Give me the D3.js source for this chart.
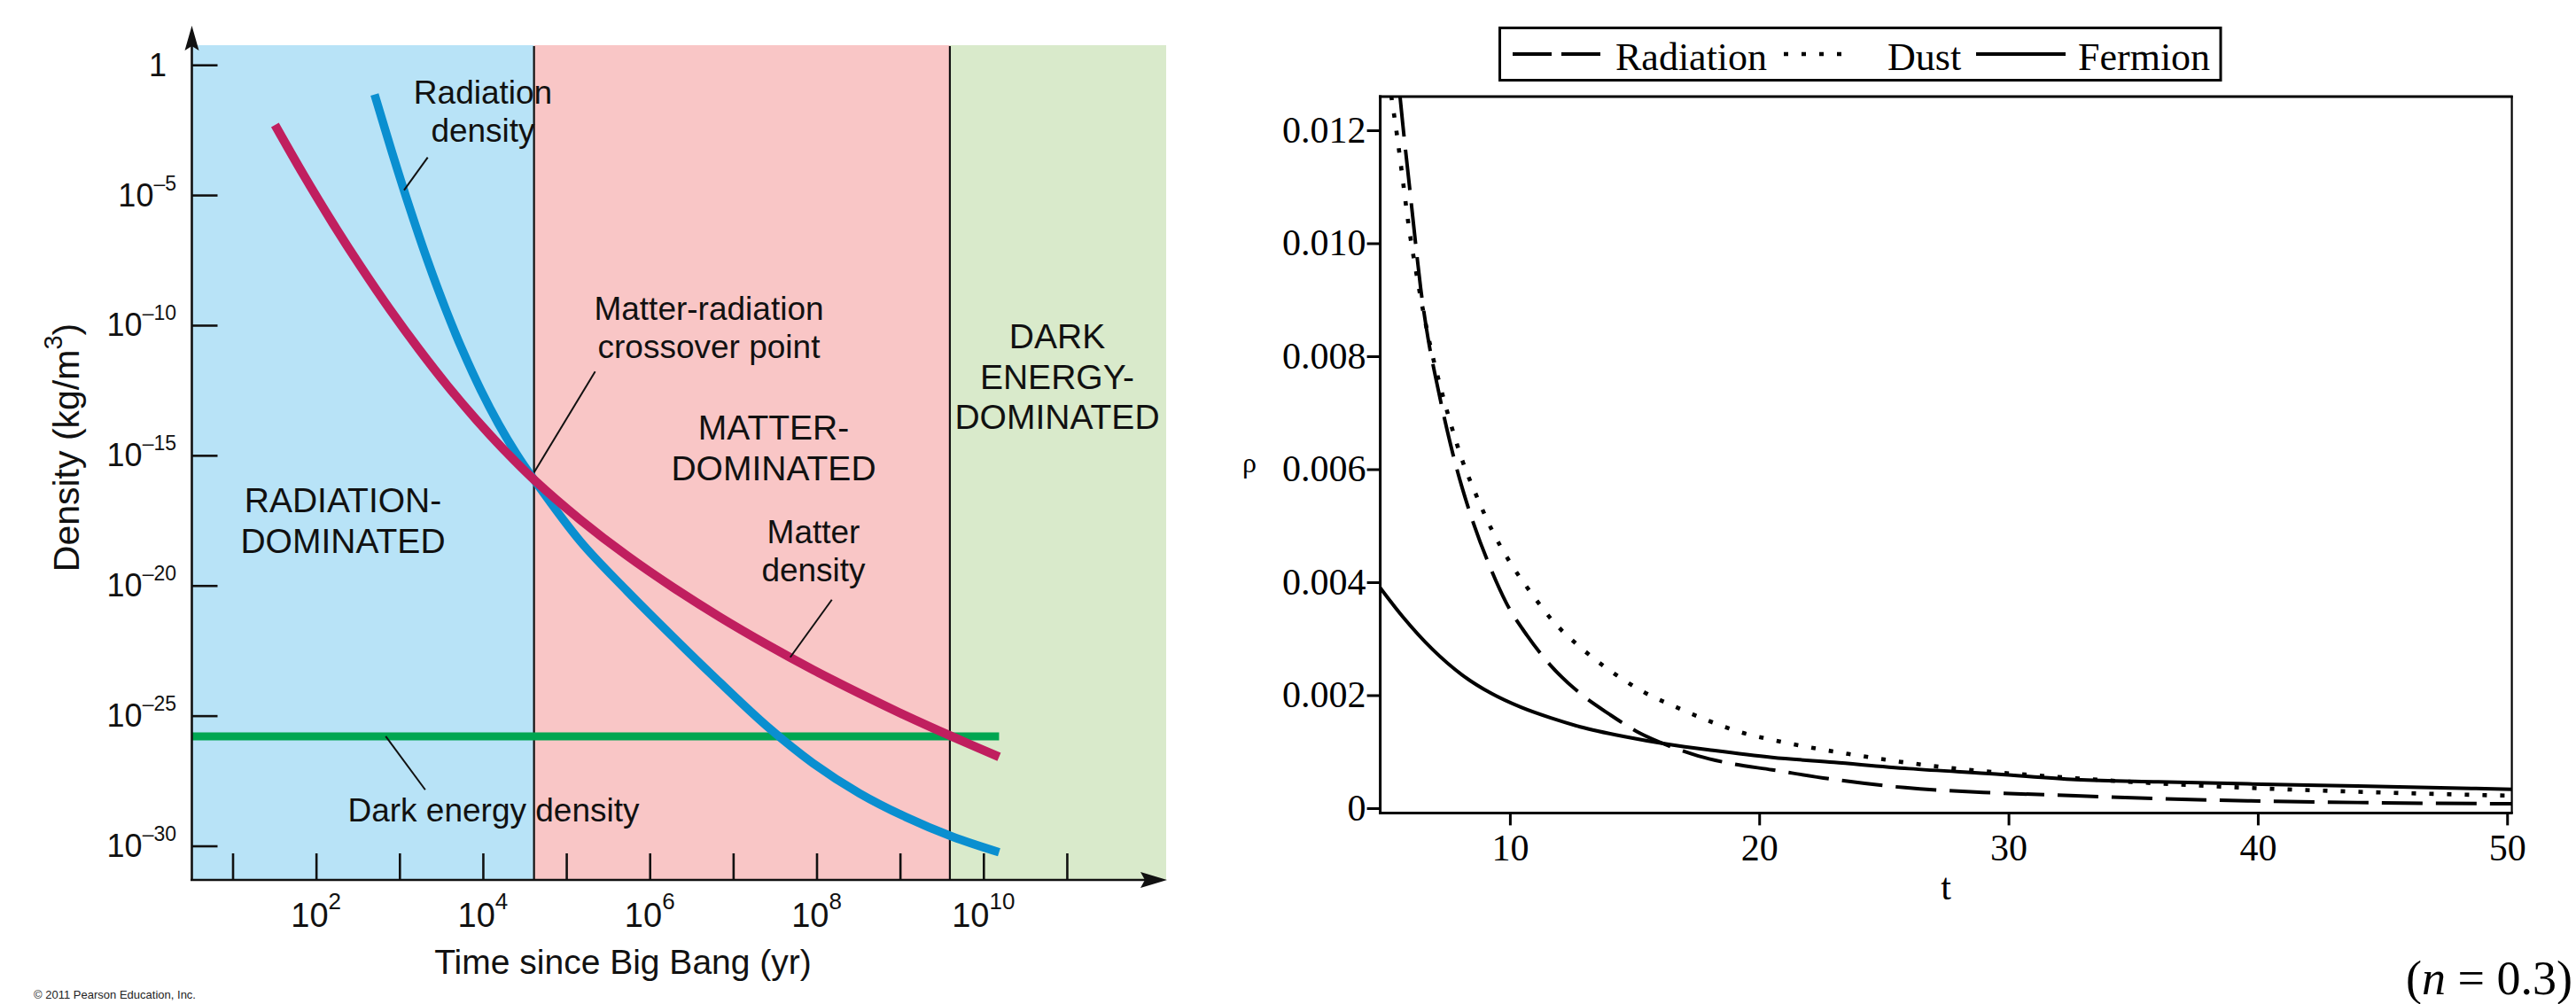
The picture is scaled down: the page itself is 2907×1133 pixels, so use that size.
<!DOCTYPE html>
<html><head><meta charset="utf-8">
<script src="https://cdn.jsdelivr.net/npm/d3@7"></script>
<style>
html,body{margin:0;padding:0;background:#fff;}
svg{display:block;}
</style></head>
<body>
<svg id="chart" width="2907" height="1133"></svg>
<script>
// ================= LEFT PANEL DATA =================
const leftXTicks = [1e1,1e2,1e3,1e4,1e5,1e6,1e7,1e8,1e9,1e10,1e11];
const leftXLabelValues = [1e2,1e4,1e6,1e8,1e10];
const leftXLabelExps = ["2","4","6","8","10"];
const leftYTicks = [1,1e-5,1e-10,1e-15,1e-20,1e-25,1e-30];
const leftYLabelExps = ["","–5","–10","–15","–20","–25","–30"];

const eraNames = [["RADIATION-","DOMINATED"],["MATTER-","DOMINATED"],["DARK","ENERGY-","DOMINATED"]];
const eraStart = [3.245, 4.1e4, 3.96e9];
const eraEnd   = [4.1e4, 3.96e9, 1.55e12];

const radiationT   = [503, 820.4, 1338, 2182, 3558, 5803, 9465, 15437, 25177, 41060,
                      1.483e5, 5.34e5, 1.929e6, 6.96e6, 2.514e7, 9.08e7, 3.278e8, 1.181e9, 4.264e9, 1.54e10];
const radiationRho = [7.24e-2, 4.07e-4, 2.92e-6, 2.89e-8, 4.30e-10, 9.53e-12, 3.18e-13, 1.59e-14, 1.15e-15, 1.16e-16,
                      4.84e-19, 6.20e-21, 1.01e-22, 1.87e-24, 4.06e-26, 1.49e-27, 1.04e-28, 1.27e-29, 2.24e-30, 5.69e-31];

const matterT   = [32.2, 71.3, 157.8, 349.4, 773.5, 1713, 3783, 8375, 18540, 41060,
                   1.483e5, 5.34e5, 1.929e6, 6.96e6, 2.514e7, 9.08e7, 3.278e8, 1.181e9, 4.264e9, 1.54e10];
const matterRho = [4.92e-3, 5.74e-5, 8.53e-7, 1.62e-8, 3.88e-10, 1.19e-11, 4.62e-13, 2.30e-14, 1.45e-15, 1.16e-16,
                   3.30e-18, 1.40e-19, 8.22e-21, 6.09e-22, 5.50e-23, 5.80e-24, 7.15e-25, 9.92e-26, 1.55e-26, 2.61e-27];

const darkT   = [3.245, 1.54e10];
const darkRho = [1.61e-26, 1.61e-26];

// leader-line targets (data coordinates on the curves)
const leaderTargets = [[1.135e3, 1.53e-5], [4.1e4, 2.2e-16], [4.83e7, 1.75e-23], [6.84e2, 1.61e-26]];

// ================= RIGHT PANEL DATA =================
const rightXTicks = [10,20,30,40,50];
const rightYTicks = [0,0.002,0.004,0.006,0.008,0.010,0.012];
const seriesNames = ["Radiation","Dust","Fermion"];

const radT   = [5.59, 5.71, 5.95, 6.19, 6.42, 6.72, 7.01, 7.37, 7.72, 8.08, 8.55, 9.26, 9.86, 10.69, 11.64, 12.82, 14.0, 15.19, 16.37, 17.56, 18.75, 20.52, 22.97, 25.85, 29.5, 32.7, 36.0, 39.6, 44.0, 50.2];
const radRho = [0.01261, 0.01208, 0.0111, 0.01011, 0.00921, 0.00831, 0.00765, 0.00691, 0.00626, 0.00568, 0.00503, 0.00421, 0.00363, 0.003057, 0.002524, 0.00203, 0.00166, 0.001333, 0.001104, 0.000924, 0.0008, 0.000678, 0.00051, 0.000363, 0.00027, 0.00022, 0.00017, 0.00013, 0.0001, 0.000077];

const dustT   = [5.24, 5.47, 5.71, 5.95, 6.19, 6.42, 6.8, 7.25, 7.61, 8.08, 8.67, 9.26, 9.98, 10.81, 11.75, 12.82, 14.0, 15.31, 16.61, 17.92, 19.34, 20.52, 23.86, 26.9, 32.7, 39.6, 44.0, 50.2];
const dustRho = [0.01261, 0.01192, 0.0111, 0.01028, 0.00962, 0.00904, 0.0082, 0.0074, 0.00683, 0.00617, 0.00552, 0.00494, 0.00437, 0.003835, 0.0033, 0.00285, 0.00244, 0.00207, 0.0018, 0.001555, 0.001333, 0.00121, 0.00094, 0.00075, 0.00053, 0.00036, 0.00029, 0.00022];

const fermT   = [4.8, 5.71, 6.90, 8.08, 9.26, 10.45, 11.64, 12.82, 14.6, 16.37, 18.15, 20.52, 23.0, 26.0, 29.5, 32.7, 36.0, 39.6, 44.0, 50.2];
const fermRho = [0.0039, 0.003385, 0.00281, 0.00236, 0.00203, 0.001785, 0.001597, 0.00144, 0.001267, 0.00113, 0.001023, 0.000899, 0.00081, 0.0007, 0.000604, 0.000507, 0.000466, 0.00043, 0.000392, 0.000334];

// ================= DRAWING =================
const svg = d3.select("#chart");
const SANS = "'Liberation Sans', Arial, Helvetica, sans-serif";
const SERIF = "'Liberation Serif', 'Times New Roman', serif";

// ---------- LEFT ----------
const xL = d3.scaleLog().domain([3.245, 1.55e12]).range([216.5, 1316]);
const yL = d3.scaleLog().domain([5.7, 4.9e-32]).range([51, 993]);
const eraColors = ["#b8e3f7", "#f9c6c6", "#d9eacb"];

const L = svg.append("g");
L.selectAll("rect.era").data(eraStart).join("rect")
  .attr("x", (d,i) => xL(d)).attr("y", 51)
  .attr("width", (d,i) => xL(eraEnd[i]) - xL(d)).attr("height", 993 - 51)
  .attr("fill", (d,i) => eraColors[i]);

L.selectAll("line.sep").data(eraStart.slice(1)).join("line")
  .attr("x1", d => xL(d)).attr("x2", d => xL(d))
  .attr("y1", 52).attr("y2", 993)
  .attr("stroke", "#111").attr("stroke-width", 2.2);

const lineL = d3.line().x(d => xL(d[0])).y(d => yL(d[1])).curve(d3.curveCatmullRom.alpha(0.5));
L.append("path").datum(d3.zip(darkT, darkRho)).attr("d", lineL)
  .attr("fill","none").attr("stroke","#00a651").attr("stroke-width",9);
L.append("path").datum(d3.zip(radiationT, radiationRho)).attr("d", lineL)
  .attr("fill","none").attr("stroke","#0a8fd0").attr("stroke-width",9.5);
L.append("path").datum(d3.zip(matterT, matterRho)).attr("d", lineL)
  .attr("fill","none").attr("stroke","#c01f5f").attr("stroke-width",10);

// axes lines + arrows
L.append("line").attr("x1",216.5).attr("x2",216.5).attr("y1",994).attr("y2",40)
  .attr("stroke","#111").attr("stroke-width",2.6);
L.append("path").attr("d","M208.5,57 L216.5,29 L224.5,57 L216.5,52 Z").attr("fill","#111");
L.append("line").attr("x1",215).attr("x2",1300).attr("y1",993).attr("y2",993)
  .attr("stroke","#111").attr("stroke-width",2.6);
L.append("path").attr("d","M1287,984 L1317,993 L1287,1002 L1292,993 Z").attr("fill","#111");

// ticks
const yAxL = L.append("g").attr("transform","translate(216.5,0)")
  .call(d3.axisLeft(yL).tickValues(leftYTicks).tickSize(-29).tickSizeOuter(0).tickFormat(() => ""));
yAxL.select(".domain").remove();
yAxL.selectAll(".tick line").attr("stroke","#111").attr("stroke-width",2.6);
const xAxL = L.append("g").attr("transform","translate(0,993)")
  .call(d3.axisBottom(xL).tickValues(leftXTicks).tickSize(-30).tickSizeOuter(0).tickFormat(() => ""));
xAxL.select(".domain").remove();
xAxL.selectAll(".tick line").attr("stroke","#111").attr("stroke-width",2.6);

// y tick labels
leftYTicks.forEach((v,i) => {
  const t = L.append("text").attr("x", leftYLabelExps[i] ? 199 : 188).attr("y", yL(v) + 12.5)
    .attr("text-anchor","end").attr("font-family",SANS).attr("font-size",36).attr("fill","#111");
  if (leftYLabelExps[i]) {
    t.append("tspan").text("10");
    t.append("tspan").attr("font-size",23).attr("dy",-18).text(leftYLabelExps[i]);
  } else {
    t.text("1");
  }
});
// x tick labels
leftXLabelValues.forEach((v,i) => {
  const t = L.append("text").attr("x", xL(v)).attr("y", 1046)
    .attr("text-anchor","middle").attr("font-family",SANS).attr("font-size",38).attr("fill","#111");
  t.append("tspan").text("10");
  t.append("tspan").attr("font-size",26).attr("dy",-20).text(leftXLabelExps[i]);
});

// axis titles
L.append("text").attr("x",703).attr("y",1099).attr("text-anchor","middle")
  .attr("font-family",SANS).attr("font-size",39).attr("fill","#111").text("Time since Big Bang (yr)");
const yt = L.append("text").attr("transform","translate(89,505) rotate(-90)").attr("text-anchor","middle")
  .attr("font-family",SANS).attr("font-size",41).attr("fill","#111");
yt.append("tspan").text("Density (kg/m");
yt.append("tspan").attr("font-size",29).attr("dy",-19).text("3");
yt.append("tspan").attr("dy",19).text(")");

// era labels
const eraLabelPos = [[387,578],[873,496],[1193,393]];
eraNames.forEach((lines,i) => {
  lines.forEach((s,j) => {
    L.append("text").attr("x",eraLabelPos[i][0]).attr("y",eraLabelPos[i][1] + j*45.5)
      .attr("text-anchor","middle").attr("font-family",SANS).attr("font-size",39).attr("fill","#111").text(s);
  });
});

// curve annotations
const annot = [
  {lines:["Radiation","density"], x:545, y:117, dx:26.7, dy:-37},
  {lines:["Matter-radiation","crossover point"], x:800, y:361, dx:69, dy:-114},
  {lines:["Matter","density"], x:918, y:613, dx:47, dy:-65},
  {lines:["Dark energy density"], x:557, y:927, dx:44.6, dy:60.3}
];
annot.forEach((a,i) => {
  const tx = xL(leaderTargets[i][0]), ty = yL(leaderTargets[i][1]);
  L.append("line").attr("x1",tx).attr("y1",ty).attr("x2",tx+a.dx).attr("y2",ty+a.dy)
    .attr("stroke","#111").attr("stroke-width",2);
  a.lines.forEach((s,j) => {
    L.append("text").attr("x",a.x).attr("y",a.y + j*43).attr("text-anchor","middle")
      .attr("font-family",SANS).attr("font-size",37).attr("fill","#111").text(s);
  });
});

L.append("text").attr("x",38).attr("y",1127).attr("font-family",SANS).attr("font-size",13)
  .attr("textLength",183).attr("lengthAdjust","spacingAndGlyphs").attr("fill","#222")
  .text("© 2011 Pearson Education, Inc.");

// ---------- RIGHT ----------
const xR = d3.scaleLinear().domain([4.8, 50.19]).range([1557.6, 2834.6]);
const yR = d3.scaleLinear().domain([-0.0000847, 0.012596]).range([917.4, 109]);
const R = svg.append("g");

R.append("clipPath").attr("id","clipR").append("rect")
  .attr("x",1557.6).attr("y",109).attr("width",2834.6-1557.6).attr("height",917.4-109);

const lineR = d3.line().x(d => xR(d[0])).y(d => yR(d[1])).curve(d3.curveMonotoneX);
const seriesData = [d3.zip(radT, radRho), d3.zip(dustT, dustRho), d3.zip(fermT, fermRho)];
const seriesDash = ["46,15", "5,15", null];
const seriesWidth = [4, 4.6, 4];
const plotG = R.append("g").attr("clip-path","url(#clipR)");
seriesData.forEach((d,i) => {
  plotG.append("path").datum(d).attr("d", lineR).attr("fill","none")
    .attr("stroke","#000").attr("stroke-width",seriesWidth[i])
    .attr("stroke-dasharray", seriesDash[i]);
});

// frame
R.append("line").attr("x1",1556).attr("x2",2835.7).attr("y1",109).attr("y2",109).attr("stroke","#000").attr("stroke-width",3);
R.append("line").attr("x1",1557.6).attr("x2",1557.6).attr("y1",107.5).attr("y2",919).attr("stroke","#000").attr("stroke-width",3);
R.append("line").attr("x1",2834.6).attr("x2",2834.6).attr("y1",108).attr("y2",918).attr("stroke","#000").attr("stroke-width",2.2);
R.append("line").attr("x1",1556).attr("x2",2835.7).attr("y1",917.4).attr("y2",917.4).attr("stroke","#000").attr("stroke-width",3);

const yAxR = R.append("g").attr("transform","translate(1557.6,0)")
  .call(d3.axisLeft(yR).tickValues(rightYTicks).tickSize(15).tickSizeOuter(0).tickPadding(1)
    .tickFormat(d => d === 0 ? "0" : d3.format(".3f")(d)));
yAxR.select(".domain").remove();
yAxR.selectAll(".tick line").attr("stroke","#000").attr("stroke-width",3);
yAxR.selectAll(".tick text").attr("font-family",SERIF).attr("font-size",42).attr("fill","#000");

const xAxR = R.append("g").attr("transform","translate(0,917.4)")
  .call(d3.axisBottom(xR).tickValues(rightXTicks).tickSize(14).tickSizeOuter(0).tickPadding(10));
xAxR.select(".domain").remove();
xAxR.selectAll(".tick line").attr("stroke","#000").attr("stroke-width",3);
xAxR.selectAll(".tick text").attr("font-family",SERIF).attr("font-size",42).attr("fill","#000");

R.append("text").attr("x",2196).attr("y",1015).attr("text-anchor","middle")
  .attr("font-family",SERIF).attr("font-size",42).text("t");
R.append("text").attr("x",1410).attr("y",533).attr("text-anchor","middle")
  .attr("font-family",SERIF).attr("font-size",32).text("ρ");

// legend
R.append("rect").attr("x",1692.5).attr("y",31.5).attr("width",2506-1692.5).attr("height",59)
  .attr("fill","none").attr("stroke","#000").attr("stroke-width",3);
const legSampleX = [[1707,1806],[2013,2090],[2230,2331]];
const legTextX = [1823, 2130, 2345];
seriesNames.forEach((s,i) => {
  R.append("line").attr("x1",legSampleX[i][0]).attr("x2",legSampleX[i][1]).attr("y1",61).attr("y2",61)
    .attr("stroke","#000").attr("stroke-width",seriesWidth[i]).attr("stroke-dasharray", i===0 ? "44,11" : seriesDash[i]);
  R.append("text").attr("x",legTextX[i]).attr("y",78.6).attr("font-family",SERIF).attr("font-size",44).text(s);
});

// parameter note
const note = R.append("text").attr("x",2903).attr("y",1122).attr("text-anchor","end")
  .attr("font-family",SERIF).attr("font-size",54).attr("fill","#000");
note.append("tspan").text("(");
note.append("tspan").attr("font-style","italic").text("n");
note.append("tspan").text(" = 0.3)");
</script>
</body></html>
